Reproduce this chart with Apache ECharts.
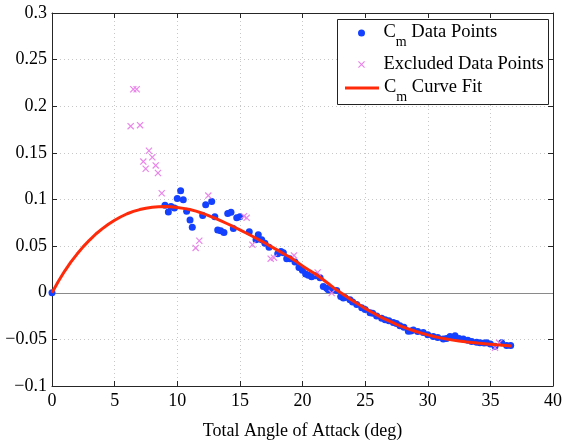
<!DOCTYPE html>
<html>
<head>
<meta charset="utf-8">
<script src="https://cdn.jsdelivr.net/npm/echarts@6/dist/echarts.min.js"></script>
<style>
html,body{margin:0;padding:0;background:#fff;}
#chart{width:573px;height:445px;}
</style>
</head>
<body>
<div id="chart"></div>
<script>
// ---- Data ----
var xTicks = [0, 5, 10, 15, 20, 25, 30, 35, 40];
var yTickLabels = ['\u22120.1', '\u22120.05', '0', '0.05', '0.1', '0.15', '0.2', '0.25', '0.3'];

var dataX = [0, 9.02, 9.29, 9.5, 9.77, 10.0, 10.27, 10.48, 10.75, 11.02, 11.2, 12.03, 12.27, 12.75, 13.0, 13.23, 13.47, 13.73, 14.03, 14.29, 14.48, 14.75, 15.0, 15.75, 16.29, 16.47, 16.74, 17.0, 17.33, 18.02, 18.28, 18.47, 18.74, 19.0, 19.4, 19.72, 19.99, 20.25, 20.47, 20.73, 21.05, 21.4, 21.66, 21.93, 22.06, 22.33, 22.73, 23.05, 23.26, 23.39, 23.79, 24.0, 24.33, 24.73, 25.0, 25.39, 25.6, 25.92, 26.32, 26.6, 26.9, 27.25, 27.5, 27.78, 28.1, 28.45, 28.65, 28.85, 29.2, 29.64, 30.0, 30.44, 30.8, 31.24, 31.5, 31.78, 32.18, 32.5, 32.84, 33.2, 33.51, 33.9, 34.17, 34.5, 34.71, 35.0, 35.37, 35.9, 36.3, 36.62];
var dataY = [0, 0.0937, 0.0866, 0.0926, 0.0908, 0.101, 0.1095, 0.0997, 0.0874, 0.0779, 0.0702, 0.0828, 0.0944, 0.0979, 0.0814, 0.0674, 0.0666, 0.0645, 0.085, 0.0863, 0.0688, 0.0804, 0.0814, 0.0653, 0.0568, 0.0621, 0.0568, 0.053, 0.0488, 0.0418, 0.0442, 0.0428, 0.0365, 0.0365, 0.033, 0.027, 0.0242, 0.020, 0.0189, 0.0172, 0.0182, 0.0161, 0.0066, 0.0049, 0.0032, 0.0032, 0.0025, -0.0039, -0.0056, -0.005, -0.0074, -0.010, -0.0126, -0.0161, -0.018, -0.0214, -0.022, -0.0249, -0.0274, -0.029, -0.030, -0.0319, -0.033, -0.0354, -0.037, -0.0414, -0.041, -0.040, -0.0415, -0.0425, -0.045, -0.047, -0.048, -0.0495, -0.049, -0.047, -0.046, -0.049, -0.0495, -0.051, -0.0523, -0.053, -0.0537, -0.054, -0.0537, -0.055, -0.0575, -0.0537, -0.0565, -0.0565];

var exclX = [6.28, 6.49, 6.76, 7.03, 7.29, 7.48, 7.74, 8.01, 8.28, 8.46, 8.76, 11.47, 11.76, 12.48, 15.33, 15.54, 16.0, 17.46, 17.72, 19.32, 21.21, 22.33, 35.37, 35.7];
var exclY = [0.1786, 0.2182, 0.2182, 0.1797, 0.1407, 0.133, 0.1523, 0.1453, 0.1365, 0.1284, 0.1067, 0.0481, 0.0558, 0.1042, 0.0821, 0.0803, 0.0516, 0.0365, 0.0376, 0.040, 0.0218, -0.0003, -0.059, -0.0537];

var fitX = [0, 0.5, 1, 1.5, 2, 2.5, 3, 3.5, 4, 4.5, 5, 5.5, 6, 6.5, 7, 7.5, 8, 8.5, 9, 9.5, 10, 10.5, 11, 11.5, 12, 12.5, 13, 13.5, 14, 14.5, 15, 15.5, 16, 16.5, 17, 17.5, 18, 18.5, 19, 19.5, 20, 20.5, 21, 21.5, 22, 22.5, 23, 23.5, 24, 24.5, 25, 25.5, 26, 26.5, 27, 27.5, 28, 28.5, 29, 29.5, 30, 30.5, 31, 31.5, 32, 32.5, 33, 33.5, 34, 34.5, 35, 35.5, 36, 36.7];
var fitY = [0, 0.012, 0.023, 0.0328, 0.0415, 0.0495, 0.0565, 0.063, 0.0685, 0.0735, 0.0778, 0.0815, 0.0847, 0.0872, 0.0892, 0.0907, 0.0917, 0.0923, 0.0925, 0.0922, 0.0915, 0.0905, 0.0892, 0.0875, 0.0853, 0.0828, 0.0800, 0.0770, 0.0740, 0.0708, 0.0675, 0.0641, 0.0606, 0.0570, 0.0533, 0.0495, 0.0457, 0.0418, 0.0380, 0.0335, 0.0288, 0.0245, 0.0203, 0.0155, 0.0105, 0.0052, 0.0005, -0.0040, -0.0085, -0.0127, -0.0168, -0.0207, -0.0243, -0.0277, -0.0308, -0.0338, -0.0365, -0.0390, -0.0413, -0.0433, -0.0452, -0.0469, -0.0484, -0.0497, -0.0508, -0.0518, -0.0526, -0.0533, -0.0540, -0.0546, -0.0552, -0.0558, -0.0563, -0.0570];

var legendNames = ['Cm Data Points', 'Excluded Data Points', 'Cm Curve Fit'];

// ---- Build ----
function pairs(xs, ys) { return xs.map(function (x, i) { return [x, ys[i]]; }); }
var FONT = 'Liberation Serif';
var xMark = 'path://M0,1.2 L1.2,0 L10,8.8 L8.8,10 Z M8.8,0 L10,1.2 L1.2,10 L0,8.8 Z';
var lineIcon = 'path://M0,0 L34,0 L34,3 L0,3 Z';
var axisColor = '#262626';
var yMin = -0.1, yMax = 0.3, yStep = 0.05;
var tickRich = {t: {fontFamily: FONT, fontSize: 18, color: '#000'}};

var richStyles = {
  n: {fontFamily: FONT, fontSize: 18.5, color: '#000', lineHeight: 20, verticalAlign: 'top'},
  s: {fontFamily: FONT, fontSize: 14, color: '#000', lineHeight: 16, verticalAlign: 'top', padding: [12, 0, 0, 0]},
  p: {fontFamily: FONT, fontSize: 18.5, color: '#000', lineHeight: 22}
};
function legendFormatter(name) {
  if (name === legendNames[0]) return '{n|C}{s|m}{n| Data Points}';
  if (name === legendNames[2]) return '{n|C}{s|m}{n| Curve Fit}';
  return '{p|' + name + '}';
}
function makeLegend(idx, icon, left, top) {
  return {
    orient: 'vertical', left: left, top: top, padding: 0, z: 20,
    itemWidth: 34, itemHeight: 7, itemGap: 0,
    data: [{name: legendNames[idx], icon: icon}],
    formatter: legendFormatter,
    textStyle: {color: '#000', fontFamily: FONT, fontSize: 18.5, rich: richStyles}
  };
}

var chart = echarts.init(document.getElementById('chart'), null, {renderer: 'canvas'});
var option = {
  animation: false,
  backgroundColor: '#fff',
  textStyle: {fontFamily: FONT},
  grid: {left: 52, right: 20, top: 13, bottom: 52},
  graphic: [{
    type: 'rect', left: 337, top: 19, z: 5,
    shape: {width: 211, height: 85},
    style: {fill: '#fff', stroke: '#222', lineWidth: 1}
  }],
  legend: [
    makeLegend(0, 'circle', 358, 23),
    makeLegend(1, xMark, 358, 55),
    makeLegend(2, lineIcon, 345, 78)
  ],
  xAxis: [{
    type: 'value', min: xTicks[0], max: xTicks[xTicks.length - 1], interval: 5,
    name: 'Total Angle of Attack (deg)', nameLocation: 'middle', nameGap: 36,
    nameTextStyle: {fontFamily: FONT, fontSize: 18, color: '#000'},
    axisLine: {show: true, onZero: false, lineStyle: {color: axisColor, width: 1}},
    axisTick: {show: true, inside: true, length: 5, lineStyle: {color: axisColor}},
    axisLabel: {
      fontFamily: FONT, fontSize: 18, color: '#000', margin: 6, rich: tickRich,
      formatter: function (v) { return '{t|' + v + '}'; }
    },
    splitLine: {show: true, lineStyle: {color: '#c8c8c8', type: [1, 3], width: 1}}
  }, {
    type: 'value', position: 'top', min: xTicks[0], max: xTicks[xTicks.length - 1], interval: 5,
    axisLine: {show: true, onZero: false, lineStyle: {color: axisColor, width: 1}},
    axisTick: {show: true, inside: true, length: 5, lineStyle: {color: axisColor}},
    axisLabel: {show: false}, splitLine: {show: false}
  }],
  yAxis: [{
    type: 'value', min: yMin, max: yMax, interval: yStep,
    axisLine: {show: true, onZero: false, lineStyle: {color: axisColor, width: 1}},
    axisTick: {show: true, inside: true, length: 5, lineStyle: {color: axisColor}},
    axisLabel: {
      fontFamily: FONT, fontSize: 18, color: '#000', margin: 5, rich: tickRich,
      formatter: function (v) { return '{t|' + yTickLabels[Math.round((v - yMin) / yStep)] + '}'; }
    },
    splitLine: {show: true, lineStyle: {color: '#c8c8c8', type: [1, 3], width: 1}}
  }, {
    type: 'value', position: 'right', min: yMin, max: yMax, interval: yStep,
    axisLine: {show: true, onZero: false, lineStyle: {color: axisColor, width: 1}},
    axisTick: {show: true, inside: true, length: 5, lineStyle: {color: axisColor}},
    axisLabel: {show: false}, splitLine: {show: false}
  }],
  series: [{
    name: legendNames[0], type: 'scatter', symbol: 'circle', symbolSize: 7,
    itemStyle: {color: '#1440ff', opacity: 1},
    data: pairs(dataX, dataY), z: 3,
    markLine: {
      silent: true, symbol: 'none', label: {show: false},
      lineStyle: {color: '#8a8a8a', type: 'solid', width: 1.2},
      data: [{yAxis: 0}], z: 2
    }
  }, {
    name: legendNames[1], type: 'scatter', symbol: xMark, symbolSize: 7,
    itemStyle: {color: '#ea85ea', opacity: 1},
    data: pairs(exclX, exclY), z: 3
  }, {
    name: legendNames[2], type: 'line', showSymbol: false, symbol: 'none', smooth: false,
    lineStyle: {color: '#ff2a0a', width: 3},
    itemStyle: {color: '#ff2a0a'},
    data: pairs(fitX, fitY), z: 4
  }]
};
chart.setOption(option);
</script>
</body>
</html>
